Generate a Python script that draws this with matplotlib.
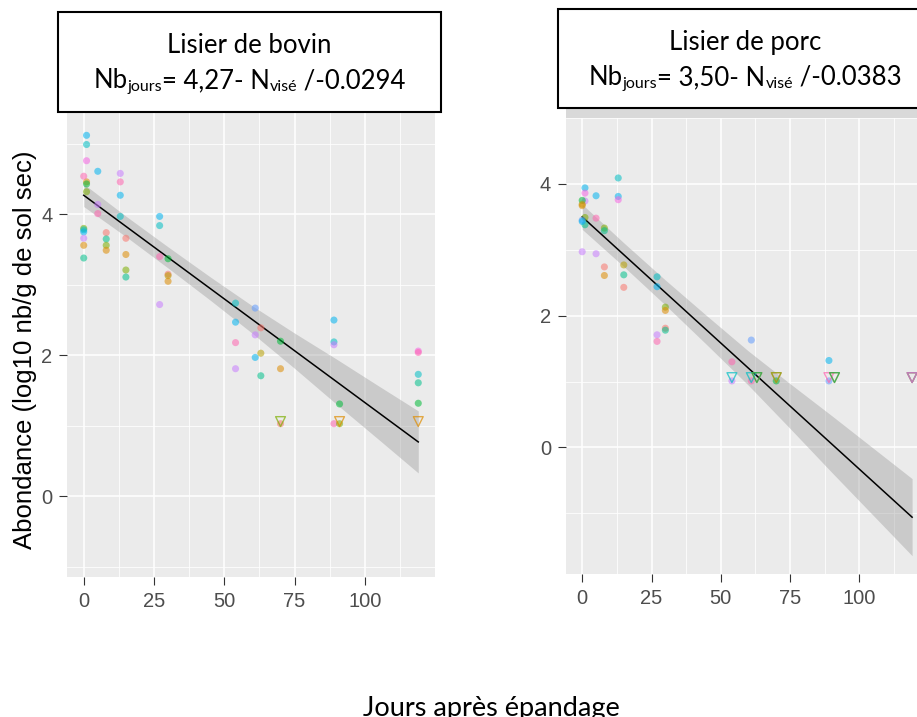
import matplotlib
matplotlib.use("Agg")
import matplotlib.pyplot as plt
from matplotlib.patches import Rectangle
import numpy as np

# ggplot hue palette, one colour per sampling site
site_colors = ["#F8766D", "#DE8C00", "#B79F00", "#7CAE00", "#00BA38", "#00C08B",
               "#00BFC4", "#00B4F0", "#619CFF", "#C77CFF", "#F564E3", "#FF64B0"]

# ---- Lisier de bovin ----
bov_days = [1, 1, 1, 1, 1, 1,
            0, 0, 0, 0, 0, 0, 0,
            5, 5, 5,
            8, 8, 8, 8,
            13, 13, 13, 13,
            15, 15, 15, 15,
            27, 27, 27, 27,
            30, 30, 30, 30,
            54, 54, 54, 54,
            61, 61, 61,
            63, 63, 63,
            70, 70, 70,
            89, 89, 89, 89,
            91, 91,
            119, 119, 119, 119, 119]
bov_abund = [5.12, 4.99, 4.76, 4.46, 4.43, 4.32,
             4.54, 3.80, 3.78, 3.75, 3.66, 3.56, 3.38,
             4.61, 4.14, 4.01,
             3.74, 3.65, 3.56, 3.49,
             4.58, 4.46, 4.27, 3.97,
             3.66, 3.43, 3.21, 3.11,
             3.97, 3.84, 3.40, 2.72,
             3.37, 3.15, 3.13, 3.05,
             2.74, 2.47, 2.18, 1.81,
             2.67, 2.29, 1.97,
             2.39, 2.03, 1.71,
             2.20, 1.81, 1.03,
             2.50, 2.19, 2.15, 1.03,
             1.31, 1.03,
             2.06, 2.04, 1.73, 1.61, 1.32]
bov_site = [7, 6, 10, 1, 4, 3,
            11, 3, 6, 7, 9, 1, 5,
            7, 9, 11,
            0, 5, 3, 1,
            9, 11, 7, 6,
            0, 1, 3, 5,
            7, 6, 11, 9,
            4, 0, 2, 1,
            6, 7, 11, 9,
            8, 9, 7,
            0, 2, 5,
            4, 1, 0,
            7, 6, 9, 11,
            4, 3,
            10, 11, 6, 5, 4]
# values under the detection limit (open triangles)
bov_lod_days = [70, 91, 119]
bov_lod_abund = [1.06, 1.06, 1.06]
bov_lod_site = [3, 1, 1]
bov_coef = [4.27, -0.0294]
bov_band_days = [0, 15, 30, 45, 60, 75, 90, 105, 119]
bov_band_hw = [0.16, 0.145, 0.15, 0.165, 0.195, 0.25, 0.32, 0.38, 0.44]

# ---- Lisier de porc ----
porc_days = [1, 1, 1, 1, 1,
             0, 0, 0, 0, 0, 0,
             5, 5, 5,
             8, 8, 8, 8,
             13, 13, 13,
             15, 15, 15,
             27, 27, 27, 27,
             30, 30, 30, 30,
             54, 54,
             61, 61,
             70,
             89, 89]
porc_abund = [3.94, 3.86, 3.74, 3.49, 3.38,
              3.75, 3.69, 3.67, 3.45, 3.43, 2.97,
              3.82, 3.48, 2.94,
              3.33, 3.29, 2.74, 2.61,
              4.09, 3.81, 3.76,
              2.77, 2.62, 2.43,
              2.59, 2.44, 1.71, 1.61,
              2.13, 2.08, 1.81, 1.78,
              1.30, 1.01,
              1.63, 1.01,
              1.01,
              1.32, 1.01]
porc_site = [7, 10, 9, 3, 5,
             4, 2, 1, 8, 7, 9,
             7, 11, 9,
             3, 5, 0, 1,
             6, 7, 10,
             2, 5, 0,
             6, 7, 9, 11,
             3, 1, 0, 5,
             11, 9,
             8, 11,
             4,
             7, 8]
porc_lod_days = [54, 61, 63, 63, 70, 70, 89, 91, 91, 119, 119, 119]
porc_lod_abund = [1.06] * 12
porc_lod_site = [6, 6, 0, 4, 0, 3, 11, 0, 4, 0, 4, 10]
porc_coef = [3.50, -0.0383]
porc_band_days = [0, 15, 30, 45, 60, 75, 90, 105, 119]
porc_band_hw = [0.19, 0.18, 0.19, 0.22, 0.26, 0.34, 0.43, 0.51, 0.585]

x_ticks = [0, 25, 50, 75, 100]
y_ticks = [0, 2, 4]

TXT = ["Lato", "DejaVu Sans"]
SANS = ["Liberation Sans", "DejaVu Sans"]

W, H = 917, 717
fig = plt.figure(figsize=(W / 100, H / 100), dpi=100)


def px_axes(left, top, right, bottom):
    return fig.add_axes([left / W, 1 - bottom / H, (right - left) / W, (bottom - top) / H])


def panel(ax, days, abund, site, lod_d, lod_a, lod_s, coef, band_d, band_hw, ylim):
    ax.set_facecolor("#EBEBEB")
    for s in ax.spines.values():
        s.set_visible(False)
    ax.set_xlim(-5.95, 124.95)
    ax.set_ylim(*ylim)
    ax.set_xticks(x_ticks)
    ax.set_yticks(y_ticks)
    ax.set_xticks([12.5, 37.5, 62.5, 87.5, 112.5], minor=True)
    ax.set_yticks([-1, 1, 3, 5], minor=True)
    ax.grid(True, which="major", color="white", lw=1.1)
    ax.grid(True, which="minor", color="white", lw=0.55)
    ax.set_axisbelow(True)
    ax.tick_params(which="major", length=5.5, width=0.8, color="#333333",
                   labelsize=14.5, labelcolor="#4D4D4D", pad=5)
    ax.tick_params(which="minor", length=0)
    for lab in ax.get_xticklabels() + ax.get_yticklabels():
        lab.set_family(SANS)

    bd = np.array(band_d, dtype=float)
    fit = coef[0] + coef[1] * bd
    hw = np.array(band_hw)
    ax.fill_between(bd, fit - hw, fit + hw, color="#999999", alpha=0.4, lw=0, zorder=2)
    ax.plot(bd, fit, color="black", lw=1.1, zorder=3)

    cols = [site_colors[i] for i in site]
    ax.scatter(days, abund, s=26, c=cols, alpha=0.55, lw=0, zorder=4)
    lcols = [site_colors[i] for i in lod_s]
    ax.scatter(lod_d, lod_a, s=50, marker="v", facecolors="none",
               edgecolors=lcols, alpha=0.7, lw=1.0, zorder=4)


ax1 = px_axes(67, 101.5, 435, 577.4)
panel(ax1, bov_days, bov_abund, bov_site, bov_lod_days, bov_lod_abund, bov_lod_site,
      bov_coef, bov_band_days, bov_band_hw, (-1.15, 5.6))

# right panel runs past the right edge of the picture
fig.patches.append(Rectangle((565.7 / W, 1 - 118 / H), (928.6 - 565.7) / W, 18 / H,
                             transform=fig.transFigure, facecolor="#D9D9D9", lw=0))
ax2 = px_axes(565.7, 118, 928.6, 574)
panel(ax2, porc_days, porc_abund, porc_site, porc_lod_days, porc_lod_abund, porc_lod_site,
      porc_coef, porc_band_days, porc_band_hw, (-1.92, 4.39))

fig.text(25 / W, 1 - 350 / H, "Abondance (log10 nb/g de sol sec)", rotation=90,
         ha="center", va="center", fontsize=18.5, family=SANS)
fig.text(491 / W, 1 - 716 / H, "Jours après épandage", ha="center", va="baseline",
         fontsize=19.5, family=TXT)


def title_box(left, top, right, bottom, xc, name, base1, base2, parts):
    fig.patches.append(Rectangle((left / W, 1 - bottom / H), (right - left) / W,
                                 (bottom - top) / H, transform=fig.transFigure,
                                 facecolor="white", edgecolor="black", lw=1.5, zorder=10))
    fig.text(xc / W, 1 - base1 / H, name, ha="center", va="baseline",
             fontsize=18.5, family=TXT, zorder=11)
    r = fig.canvas.get_renderer()
    texts = []
    for s, sub in parts:
        fs = 11.5 if sub else 18.5
        dy = 3 if sub else 0
        t = fig.text(0, 1 - (base2 + dy) / H, s, ha="left", va="baseline",
                     fontsize=fs, family=TXT, zorder=11)
        texts.append(t)
    widths = [t.get_window_extent(r).width for t in texts]
    x = xc - sum(widths) / 2
    for t, w in zip(texts, widths):
        t.set_x(x / W)
        x += w


title_box(58, 12, 441, 112, 249.5, "Lisier de bovin", 53, 88,
          [("Nb", False), ("jours", True), ("= 4,27- N", False), ("visé", True),
           (" /-0.0294", False)])
title_box(558, 9, 932, 108, 745, "Lisier de porc", 50, 85,
          [("Nb", False), ("jours", True), ("= 3,50- N", False), ("visé", True),
           (" /-0.0383", False)])

fig.savefig("out.png", dpi=100)
